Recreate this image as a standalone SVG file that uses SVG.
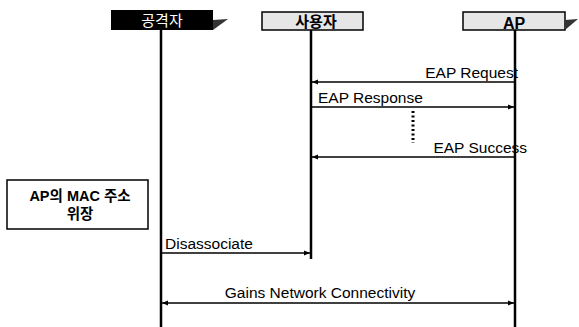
<svg xmlns="http://www.w3.org/2000/svg" width="579" height="327" viewBox="0 0 579 327">
<style>
.life{stroke:#000;stroke-width:2.5;fill:none}
.msg{stroke:#000;stroke-width:1.5;fill:none}
.lbl{font-family:"Liberation Sans",Arial,sans-serif;font-size:15.5px;fill:#000}
.hdr{font-family:"Liberation Sans","Noto Sans CJK KR",Arial,sans-serif;font-size:15px;font-weight:bold;fill:#000;text-anchor:middle}
.pen{fill:#333}
</style>
<defs>
<marker id="ah" viewBox="0 0 10 10" refX="10" refY="5" markerWidth="8" markerHeight="6" markerUnits="userSpaceOnUse" orient="auto-start-reverse">
<path d="M0,1 L10,5 L0,9 z" fill="#000"/>
</marker>
</defs>
<rect width="579" height="327" fill="#fff"/>
<g id="attacker">
<rect x="111" y="10" width="102" height="20" fill="#000"/>
<polygon class="pen" points="213,20 228,19 213,30"/>
<text x="162" y="26" class="hdr" style="fill:#fff;font-weight:normal">공격자</text>
<line class="life" x1="161" y1="30" x2="161" y2="327"/>
</g>
<g id="user">
<rect x="262" y="12" width="101" height="18" fill="#e6e6e6" stroke="#000" stroke-width="1.5"/>
<text x="316" y="27" class="hdr">사용자</text>
<line class="life" x1="311" y1="30" x2="311" y2="259"/>
</g>
<g id="ap">
<rect x="463" y="12" width="102" height="18" fill="#e6e6e6" stroke="#000" stroke-width="1.5"/>
<polygon class="pen" points="565,20 578,19 565,30"/>
<text x="514" y="29" class="hdr" style="font-size:16px">AP</text>
<line class="life" x1="515" y1="30" x2="515" y2="327"/>
</g>
<g id="note">
<rect x="7" y="180" width="141" height="49" fill="#fff" stroke="#000" stroke-width="1.5"/>
<text x="80" y="201" class="hdr" style="font-size:14.5px">AP의 MAC 주소</text>
<text x="80" y="219" class="hdr" style="font-size:14.5px">위장</text>
</g>
<g id="connectors">
<line class="msg" x1="515" y1="82" x2="312" y2="82" marker-end="url(#ah)"/>
<text x="518" y="78" class="lbl" text-anchor="end">EAP Request</text>
<line class="msg" x1="311" y1="107" x2="514" y2="107" marker-end="url(#ah)"/>
<text x="318" y="103" class="lbl">EAP Response</text>
<line x1="413" y1="111" x2="413" y2="143" stroke="#000" stroke-width="3" stroke-dasharray="2,2.5"/>
<line class="msg" x1="515" y1="157" x2="312" y2="157" marker-end="url(#ah)"/>
<text x="527" y="153" class="lbl" text-anchor="end">EAP Success</text>
<line class="msg" x1="161" y1="253" x2="310" y2="253" marker-end="url(#ah)"/>
<text x="165" y="249" class="lbl">Disassociate</text>
<line class="msg" x1="162" y1="303" x2="514" y2="303" marker-start="url(#ah)" marker-end="url(#ah)"/>
<text x="320" y="298" class="lbl" text-anchor="middle">Gains Network Connectivity</text>
</g>
</svg>
